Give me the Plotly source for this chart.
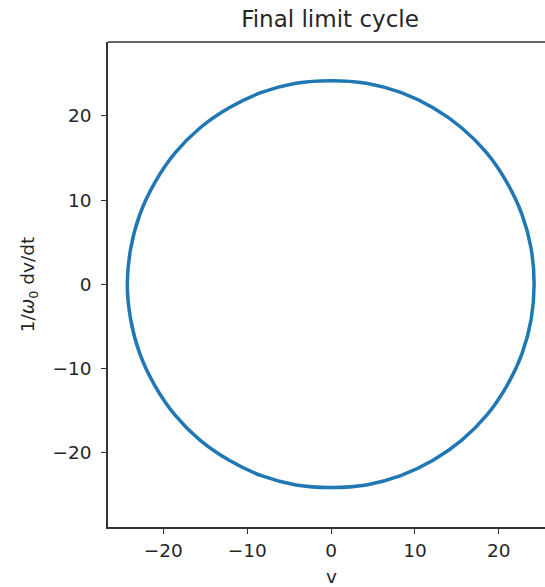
import plotly.graph_objects as go

# Points read around the limit cycle (v, 1/w0 dv/dt)
v = [24.2, 23.85, 22.75, 20.95, 18.55, 15.55, 12.1, 8.3, 4.2, 0.0,
     -4.2, -8.3, -12.1, -15.6, -18.6, -21.0, -22.8, -23.9, -24.3,
     -23.9, -22.8, -21.0, -18.6, -15.6, -12.1, -8.3, -4.2, 0.0,
     4.2, 8.3, 12.1, 15.55, 18.55, 20.95, 22.75, 23.85, 24.2]
dv = [0.0, 4.2, 8.3, 12.1, 15.6, 18.6, 21.0, 22.8, 23.9, 24.2,
      23.9, 22.8, 21.0, 18.6, 15.6, 12.1, 8.3, 4.2, 0.0,
      -4.2, -8.3, -12.1, -15.6, -18.6, -21.0, -22.8, -23.9, -24.2,
      -23.9, -22.8, -21.0, -18.6, -15.6, -12.1, -8.3, -4.2, 0.0]

x_ticks = [-20, -10, 0, 10, 20]
y_ticks = [-20, -10, 0, 10, 20]

fig = go.Figure()
fig.add_trace(go.Scatter(x=v, y=dv, mode="lines",
                         line=dict(color="#1f77b4", width=3.5, shape="spline", smoothing=1.0),
                         showlegend=False, hoverinfo="skip"))

font = dict(family="DejaVu Sans", color="#262626")
fig.update_layout(
    width=545, height=587,
    margin=dict(l=108, r=0, t=42, b=60),
    plot_bgcolor="white", paper_bgcolor="white",
    title=dict(text="Final limit cycle", x=330 / 545, xanchor="center",
               y=1 - 19 / 587, yanchor="middle",
               font=dict(family="DejaVu Sans", size=23, color="#262626")),
    xaxis=dict(range=[-26.6, 25.5], tickvals=x_ticks, ticks="outside", ticklen=5,
               tickcolor="#333", showline=True, linecolor="#333", linewidth=1.5,
               showgrid=False, zeroline=False, ticklabelstandoff=1,
               tickfont=dict(size=18.5, **font)),
    yaxis=dict(range=[-28.9, 28.8], tickvals=y_ticks, ticks="outside", ticklen=5,
               tickcolor="#333", showline=True, linecolor="#333", linewidth=1.5,
               showgrid=False, zeroline=False, ticklabelstandoff=6,
               tickfont=dict(size=18.5, **font),
               title=dict(text="1/<i>ω</i><sub>0</sub> dv/dt", font=dict(size=18.5, **font), standoff=13)),
)
fig.add_annotation(text="v", xref="x", yref="paper", x=0, y=-(576 - 527) / 485,
                   xanchor="center", yanchor="middle", showarrow=False,
                   font=dict(size=18.5, **font))
fig.add_shape(type="line", xref="paper", yref="paper", x0=0, x1=1, y0=1, y1=1,
              line=dict(color="#333", width=1.5))
fig.write_html("out.html")
